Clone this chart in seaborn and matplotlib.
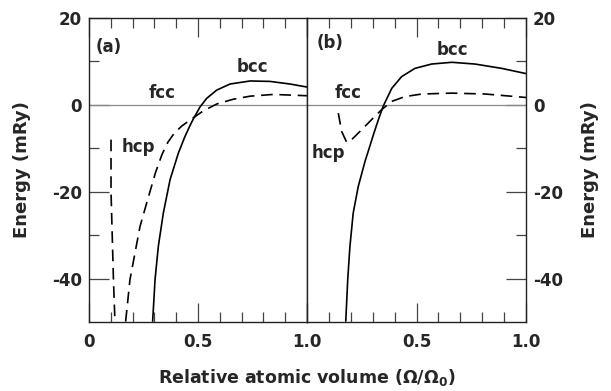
import matplotlib
matplotlib.use("Agg")
import matplotlib.pyplot as plt
import seaborn as sns
import numpy as np
from matplotlib.ticker import MultipleLocator, FixedLocator

sns.set_theme(style="white")
plt.rcParams['font.family'] = ['DejaVu Sans']
plt.rcParams['font.weight'] = 'bold'
plt.rcParams['mathtext.fontset'] = 'dejavusans'

# ---- data ----
# panel (a)
a_bcc_x = [0.292, 0.303, 0.318, 0.341, 0.372, 0.410, 0.440, 0.463, 0.478, 0.509, 0.540, 0.586,
           0.647, 0.739, 0.830, 0.922, 1.000]
a_bcc_y = [-49.8, -40.2, -32.6, -24.9, -17.2, -11.1, -7.3, -4.8, -3.3, -0.5, 1.5, 3.4,
           4.8, 5.5, 5.4, 4.8, 4.1]
a_fcc_x = [0.168, 0.188, 0.234, 0.272, 0.305, 0.335, 0.362, 0.390, 0.425, 0.463, 0.524, 0.586,
           0.662, 0.739, 0.845, 1.000]
a_fcc_y = [-49.9, -40.2, -28.0, -21.3, -15.6, -11.4, -8.6, -6.6, -4.9, -3.5, -1.4, 0.2,
           1.3, 2.0, 2.4, 2.1]
a_hcp_x = [0.101, 0.101, 0.112, 0.119]
a_hcp_y = [-8.0, -20.0, -40.0, -49.9]
# panel (b)
b_bcc_x = [0.177, 0.186, 0.196, 0.211, 0.234, 0.265, 0.287, 0.305, 0.326, 0.348, 0.387, 0.432,
           0.493, 0.569, 0.661, 0.767, 0.889, 1.000]
b_bcc_y = [-49.8, -40.2, -32.6, -24.9, -18.8, -13.0, -9.5, -6.6, -3.4, -0.3, 3.8, 6.5,
           8.4, 9.4, 9.8, 9.4, 8.4, 7.2]
b_fcc_x = [0.143, 0.158, 0.181, 0.204, 0.250, 0.295, 0.341, 0.387, 0.447, 0.524, 0.661, 0.813, 1.000]
b_fcc_y = [-1.9, -6.1, -8.6, -8.0, -5.7, -3.4, -1.1, 0.8, 1.9, 2.5, 2.7, 2.5, 1.7]

ytick_vals = [-40, -20, 0, 20]
ytick_labels = ["-40", "-20", "0", "20"]

panels = [
    dict(bcc=(a_bcc_x, a_bcc_y), fcc=(a_fcc_x, a_fcc_y), hcp=(a_hcp_x, a_hcp_y),
         labels=[("(a)", 0.09, 13.4), ("fcc", 0.335, 2.8), ("bcc", 0.748, 8.7), ("hcp", 0.225, -9.7)]),
    dict(bcc=(b_bcc_x, b_bcc_y), fcc=(b_fcc_x, b_fcc_y), hcp=None,
         labels=[("(b)", 0.105, 14.3), ("fcc", 0.187, 2.8), ("bcc", 0.662, 12.6), ("hcp", 0.096, -11.0)]),
]

W, H = 611, 391
fig = plt.figure(figsize=(W / 100, H / 100), dpi=100)
bottom = 1 - 322 / H
height = (322 - 18) / H
ax_a = fig.add_axes([89 / W, bottom, 218 / W, height])
ax_b = fig.add_axes([307 / W, bottom, 219 / W, height])

dash = (0, (7, 4))
fs = 12
for ax, p in zip([ax_a, ax_b], panels):
    ax.axhline(0, color="#8a8a8a", lw=0.9, zorder=1)
    sns.lineplot(x=p["bcc"][0], y=p["bcc"][1], ax=ax, color="black", lw=1.2,
                 sort=False, estimator=None)
    sns.lineplot(x=p["fcc"][0], y=p["fcc"][1], ax=ax, color="black", lw=1.2,
                 sort=False, estimator=None, linestyle=dash)
    if p["hcp"] is not None:
        sns.lineplot(x=p["hcp"][0], y=p["hcp"][1], ax=ax, color="black", lw=1.2,
                     sort=False, estimator=None, linestyle=dash)
    for txt, x, y in p["labels"]:
        ax.text(x, y, txt, fontsize=fs, fontweight="bold", ha="center", va="center")
    ax.set_xlim(0, 1.0)
    ax.set_ylim(-50, 20)
    ax.set_facecolor("white")
    for s in ax.spines.values():
        s.set_visible(True)
        s.set_color("#222222")
        s.set_linewidth(1.0)
    ax.xaxis.set_major_locator(FixedLocator([0, 0.5, 1.0]))
    ax.xaxis.set_minor_locator(MultipleLocator(0.1))
    ax.yaxis.set_major_locator(FixedLocator(ytick_vals))
    ax.yaxis.set_minor_locator(FixedLocator([-30, -10, 10]))
    ax.tick_params(axis="x", which="major", direction="in", length=13.5, width=0.9,
                   top=True, bottom=True, color="#444444", labelsize=fs, pad=8)
    ax.tick_params(axis="x", which="minor", direction="in", length=7.2, width=0.9,
                   top=True, bottom=True, color="#444444")
    ax.set_xlabel("")
    ax.set_ylabel("")

ax_a.set_xticklabels(["0", "0.5", "1.0"], fontweight="bold")
ax_b.set_xticklabels(["", "0.5", "1.0"], fontweight="bold")

ax_a.tick_params(axis="y", which="major", direction="in", length=14.4, width=0.9,
                 left=True, right=False, color="#444444", labelsize=fs, pad=5)
ax_a.tick_params(axis="y", which="minor", direction="in", length=7.2, width=0.9,
                 left=True, right=False, color="#444444")
ax_a.set_yticklabels(ytick_labels, fontweight="bold")

ax_b.tick_params(axis="y", which="major", direction="in", length=14.4, width=0.9,
                 left=False, right=True, labelleft=False, labelright=True,
                 color="#444444", labelsize=fs, pad=5)
ax_b.tick_params(axis="y", which="minor", direction="in", length=7.2, width=0.9,
                 left=False, right=True, color="#444444")
ax_b.set_yticks(ytick_vals)
ax_b.set_yticklabels(ytick_labels, fontweight="bold")

fig.text(22 / W, 1 - 170 / H, "Energy (mRy)", rotation=90, ha="center", va="center",
         fontsize=13, fontweight="bold")
fig.text(590 / W, 1 - 170 / H, "Energy (mRy)", rotation=90, ha="center", va="center",
         fontsize=13, fontweight="bold")
fig.text(307 / W, 1 - 377 / H, r"Relative atomic volume ($\Omega/\Omega_{\mathbf{0}}$)",
         ha="center", va="center", fontsize=12.5, fontweight="bold")

fig.savefig("out.png", dpi=100, facecolor="white")
